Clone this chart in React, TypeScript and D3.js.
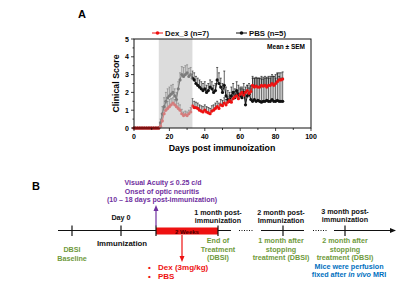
import React from "react";
import * as d3 from "d3";

const days: number[] = d3.range(0, 85);
const dexMean: number[] = [
  0, 0, 0, 0, 0, 0, 0, 0, 0, 0, 0, 0, 0, 0, 0,
  0.1, 0.4, 0.8, 1.0, 1.1, 1.2, 1.3, 1.4, 1.3, 1.2, 1.1, 1.0, 0.8, 0.7, 0.75,
  0.7, 0.8, 0.9, 1.25, 1.15, 1.15, 1.1, 1.0, 0.95, 0.9, 1.0, 0.9, 0.85, 0.8, 0.95,
  1.0, 1.1, 1.2, 1.1, 1.3, 1.25, 1.4, 1.3, 1.45, 1.55, 1.45, 1.65, 1.75, 1.8, 1.65,
  1.9, 2.0, 1.85, 2.0, 2.1, 1.95, 2.05, 2.4, 2.3, 2.35, 2.3, 2.3, 2.4, 2.35, 2.4,
  2.3, 2.4, 2.4, 2.5, 2.4, 2.5, 2.6, 2.7, 2.7, 2.75,
];
const dexSem: number[] = [
  0, 0, 0, 0, 0, 0, 0, 0, 0, 0, 0, 0, 0, 0, 0,
  0.1, 0.3, 0.4, 0.4, 0.4, 0.4, 0.35, 0.3, 0.3, 0.3, 0.3, 0.3, 0.25, 0.2, 0.2,
  0.2, 0.2, 0.25, 0.4, 0.35, 0.3, 0.3, 0.3, 0.3, 0.3, 0.3, 0.3, 0.3, 0.3, 0.3,
  0.3, 0.3, 0.3, 0.3, 0.3, 0.3, 0.3, 0.3, 0.3, 0.3, 0.3, 0.3, 0.3, 0.3, 0.3,
  0.3, 0.3, 0.3, 0.3, 0.3, 0.3, 0.3, 0.5, 0.5, 0.5, 0.5, 0.5, 0.5, 0.5, 0.5,
  0.5, 0.5, 0.5, 0.5, 0.5, 0.5, 0.5, 0.4, 0.4, 0.4,
];
const pbsMean: number[] = [
  0, 0, 0, 0, 0, 0, 0, 0, 0, 0, 0, 0, 0, 0, 0,
  0.3, 0.8, 1.2, 1.5, 1.7, 1.8, 1.9, 2.0, 1.8, 1.6, 2.2, 2.7, 3.0, 2.9, 3.0,
  3.1, 2.9, 3.0, 2.8, 2.7, 2.5, 2.4, 2.3, 2.2, 2.1, 2.2, 2.0, 2.1, 2.3, 2.2,
  2.0, 2.1, 2.7, 2.5, 2.3, 2.0, 2.4, 1.8, 1.6, 1.5, 1.8, 2.0, 1.7, 2.1, 1.9,
  1.8, 1.7, 2.0, 1.3, 1.8, 1.9, 1.6, 1.5, 1.6, 1.5, 1.55, 1.5, 1.45, 1.5, 1.5,
  1.55, 1.5, 1.5, 1.6, 1.5, 1.5, 1.55, 1.5, 1.5, 1.5,
];
const pbsSem: number[] = [
  0, 0, 0, 0, 0, 0, 0, 0, 0, 0, 0, 0, 0, 0, 0,
  0.2, 0.4, 0.5, 0.5, 0.5, 0.5, 0.5, 0.45, 0.4, 0.4, 0.4, 0.4, 0.45, 0.5, 0.5,
  0.45, 0.45, 0.4, 0.4, 0.4, 0.4, 0.4, 0.4, 0.4, 0.4, 0.4, 0.4, 0.4, 0.4, 0.4,
  0.4, 0.4, 0.7, 0.6, 0.5, 0.5, 0.8, 0.5, 0.5, 0.5, 0.5, 0.5, 0.5, 0.5, 0.5,
  0.5, 0.5, 0.5, 0.6, 0.6, 0.6, 0.8, 1.3, 1.2, 1.3, 1.25, 1.3, 1.3, 1.25, 1.3,
  1.3, 1.3, 1.3, 1.3, 1.4, 1.3, 1.5, 1.4, 1.3, 1.3,
];
const xTicks: number[] = [0, 20, 40, 60, 80, 100];
const yTicks: number[] = [0, 1, 2, 3, 4, 5];
const treatmentWindow: [number, number] = [14, 33];
const legendLabels: string[] = ["Dex_3 (n=7)", "PBS (n=5)"];

const FONT = "'Liberation Sans', Arial, sans-serif";
const RED = "#ee1111";
const PURPLE = "#7030a0";
const GREEN = "#6f9a3c";
const BLUE = "#0070c0";

export default function App() {
  const x = d3.scaleLinear().domain([0, 100]).range([134, 311]);
  const y = d3.scaleLinear().domain([0, 5]).range([128, 39]);
  const line = d3
    .line<number>()
    .x((_, i) => x(days[i]))
    .y((v) => y(v));

  const series = [
    { mean: pbsMean, sem: pbsSem, color: "#111" },
    { mean: dexMean, sem: dexSem, color: RED },
  ];

  const minorY = d3.range(0, 5.01, 0.5);
  const minorX = d3.range(0, 101, 10);

  return (
    <svg width={400} height={285} style={{ position: "absolute", left: 0, top: 0 }} fontFamily={FONT} fontWeight="bold">
      <rect width={400} height={285} fill="#fff" />
      {/* Panel A */}
      <text x={78} y={18} fontSize={11}>A</text>
      {/* legend */}
      <g fontSize={7.8}>
        <line x1={152} x2={163} y1={33} y2={33} stroke={RED} strokeWidth={1} />
        <circle cx={157.5} cy={33} r={1.8} fill={RED} />
        <text x={165} y={36} fill="#111">{legendLabels[0]}</text>
        <line x1={236} x2={247} y1={33} y2={33} stroke="#111" strokeWidth={1} />
        <circle cx={241.5} cy={33} r={1.8} fill="#111" />
        <text x={249} y={36} fill="#111">{legendLabels[1]}</text>
      </g>
      {/* data */}
      {series.map((s, si) => (
        <g key={si}>
          {s.mean.map((m, i) =>
            s.sem[i] > 0 ? (
              <g key={i} stroke="#222" strokeWidth={0.7}>
                <line x1={x(days[i])} x2={x(days[i])} y1={y(m)} y2={y(m + s.sem[i])} />
                <line x1={x(days[i]) - 1} x2={x(days[i]) + 1} y1={y(m + s.sem[i])} y2={y(m + s.sem[i])} />
              </g>
            ) : null
          )}
        </g>
      ))}
      {series.map((s, si) => (
        <g key={"l" + si}>
          <path d={line(s.mean) || ""} fill="none" stroke={s.color} strokeWidth={1} />
          {s.mean.map((m, i) => (
            <circle key={i} cx={x(days[i])} cy={y(m)} r={1.6} fill={s.color} />
          ))}
        </g>
      ))}
      {/* shading on top */}
      <rect
        x={x(treatmentWindow[0])}
        y={y(5)}
        width={x(treatmentWindow[1]) - x(treatmentWindow[0])}
        height={y(0) - y(5)}
        fill="#c4c4c4"
        opacity={0.6}
      />
      {/* frame */}
      <rect x={134} y={39} width={177} height={89} fill="none" stroke="#111" strokeWidth={1} />
      {/* y ticks */}
      {minorY.map((v) => (
        <line key={v} x1={134} x2={v % 1 === 0 ? 131 : 132.5} y1={y(v)} y2={y(v)} stroke="#111" strokeWidth={0.8} />
      ))}
      {yTicks.map((v) => (
        <text key={v} x={129} y={y(v) + 2.5} fontSize={7} textAnchor="end">{v}</text>
      ))}
      {/* x ticks */}
      {minorX.map((v) => (
        <line key={v} x1={x(v)} x2={x(v)} y1={128} y2={v % 20 === 0 ? 131 : 130} stroke="#111" strokeWidth={0.8} />
      ))}
      {xTicks.map((v) => (
        <text key={v} x={x(v)} y={139} fontSize={7} textAnchor="middle">{v}</text>
      ))}
      <text x={222} y={151} fontSize={8.8} textAnchor="middle">Days post immunoization</text>
      <text transform={`translate(119,${(39 + 128) / 2}) rotate(-90)`} fontSize={8.8} textAnchor="middle">Clinical Score</text>
      <text x={305} y={49} fontSize={6.5} textAnchor="end">Mean ± SEM</text>

      {/* Panel B */}
      <text x={32} y={190} fontSize={11}>B</text>
      <g stroke="#111" strokeWidth={1}>
        <line x1={58} x2={231} y1={230.5} y2={230.5} />
        <line x1={239} x2={253} y1={230.5} y2={230.5} strokeDasharray="1,1.5" />
        <line x1={261} x2={304} y1={230.5} y2={230.5} />
        <line x1={313} x2={327} y1={230.5} y2={230.5} strokeDasharray="1,1.5" />
        <line x1={334} x2={392} y1={230.5} y2={230.5} />
      </g>
      <path d="M396,230.5 L390,228 L390,233 Z" fill="#111" />
      <rect x={156} y={227.5} width={62} height={7} fill={RED} />
      <text x={187} y={233.5} fontSize={6} textAnchor="middle" fill="#4a0000">2 Weeks</text>
      <g stroke="#111" strokeWidth={1.2}>
        {[72, 121, 156, 218, 283, 345].map((tx) => (
          <line key={tx} x1={tx} x2={tx} y1={225.5} y2={236} />
        ))}
      </g>
      {/* purple arrow */}
      <line x1={156} x2={156} y1={226} y2={210} stroke={PURPLE} strokeWidth={1.2} />
      <path d="M156,205 L153.5,211 L158.5,211 Z" fill={PURPLE} />
      <g fill={PURPLE} fontSize={7} textAnchor="middle">
        <text x={163} y={185}>Visual Acuity ≤ 0.25 c/d</text>
        <text x={162} y={194}>Onset of optic neuritis</text>
        <text x={162} y={202}>(10 – 18 days post-immunization)</text>
      </g>
      {/* red arrow */}
      <line x1={182} x2={182} y1={235} y2={256} stroke={RED} strokeWidth={1.2} />
      <path d="M182,262 L179.5,256 L184.5,256 Z" fill={RED} />
      <g fill={RED} fontSize={8}>
        <text x={148} y={270}>•</text>
        <text x={158} y={270}>Dex (3mg/kg)</text>
        <text x={148} y={278.5}>•</text>
        <text x={158} y={278.5}>PBS</text>
      </g>
      <g fontSize={7.2} textAnchor="middle" fill="#111">
        <text x={121} y={219.5}>Day 0</text>
        <text x={122} y={246} fontSize={7.8}>Immunization</text>
        <text x={218} y={215}>1 month post-</text>
        <text x={218} y={223}>immunization</text>
        <text x={281} y={215}>2 month post-</text>
        <text x={281} y={223}>Immunization</text>
        <text x={345} y={214}>3 month post-</text>
        <text x={345} y={222}>immunization</text>
      </g>
      <g fontSize={7.2} textAnchor="middle" fill={GREEN}>
        <text x={72} y={252}>DBSI</text>
        <text x={72} y={261}>Baseline</text>
        <text x={218} y={243}>End of</text>
        <text x={218} y={252}>Treatment</text>
        <text x={218} y={260}>(DBSI)</text>
        <text x={281} y={243}>1 month after</text>
        <text x={281} y={252}>stopping</text>
        <text x={281} y={260}>treatment (DBSI)</text>
        <text x={345} y={243}>2 month after</text>
        <text x={345} y={252}>stopping</text>
        <text x={345} y={260}>treatment (DBSI)</text>
      </g>
      <g fontSize={7.2} textAnchor="middle" fill={BLUE}>
        <text x={349} y={269}>Mice were perfusion</text>
        <text x={349} y={277}>
          fixed after <tspan fontStyle="italic">in vivo</tspan> MRI
        </text>
      </g>
    </svg>
  );
}
